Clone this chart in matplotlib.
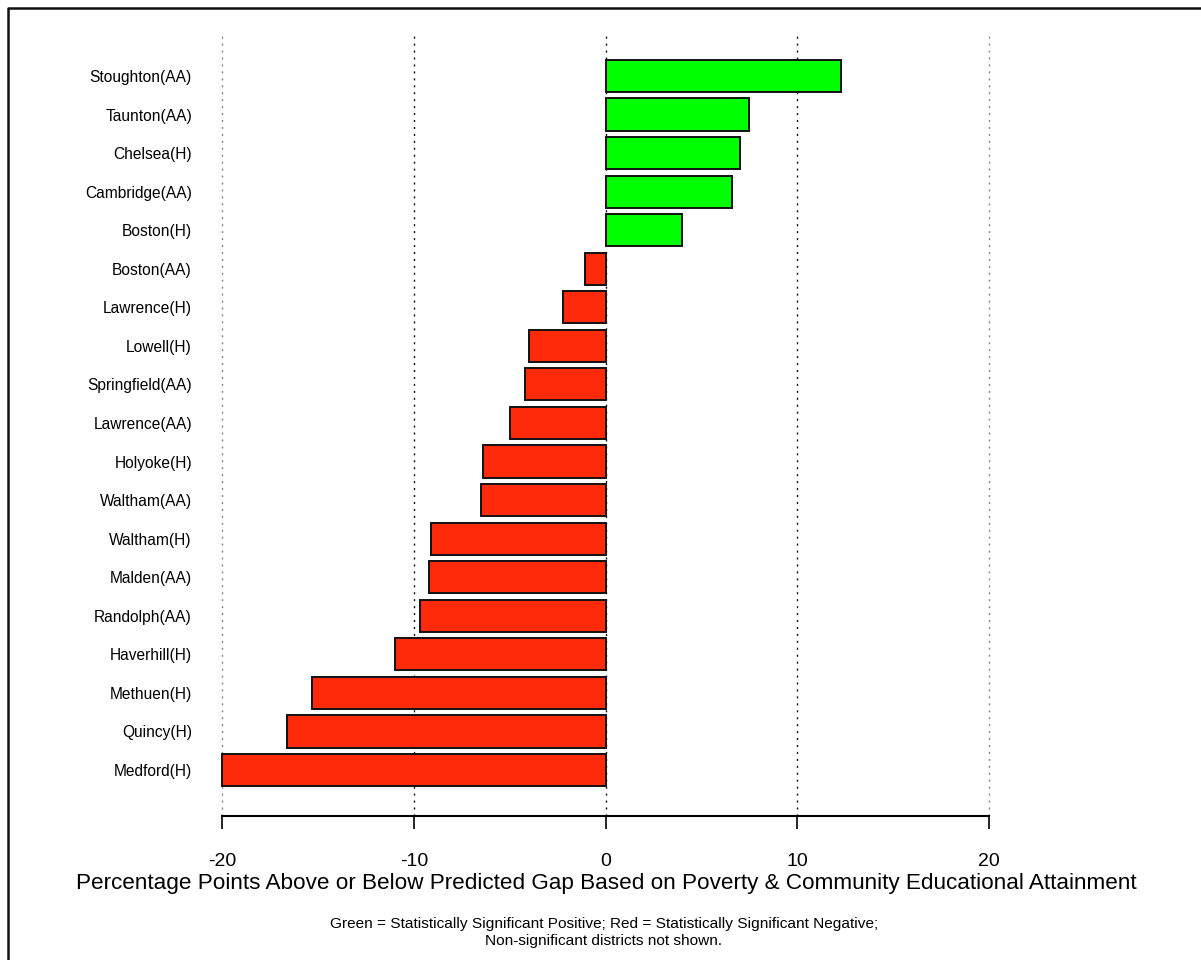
import numpy as np
import matplotlib
matplotlib.use('Agg')
import matplotlib.pyplot as plt
from matplotlib.lines import Line2D

# districts, top to bottom as shown
districts = ['Stoughton(AA)', 'Taunton(AA)', 'Chelsea(H)', 'Cambridge(AA)', 'Boston(H)',
             'Boston(AA)', 'Lawrence(H)', 'Lowell(H)', 'Springfield(AA)', 'Lawrence(AA)',
             'Holyoke(H)', 'Waltham(AA)', 'Waltham(H)', 'Malden(AA)', 'Randolph(AA)',
             'Haverhill(H)', 'Methuen(H)', 'Quincy(H)', 'Medford(H)']
gap = [12.3, 7.5, 7.0, 6.6, 4.0,
       -1.05, -2.2, -4.0, -4.2, -5.0,
       -6.4, -6.5, -9.1, -9.2, -9.7,
       -11.0, -15.3, -16.6, -20.0]
xticks = [-20, -10, 0, 10, 20]

plt.rcParams['font.family'] = ['Liberation Sans', 'DejaVu Sans']

W, H = 1201, 960
fig = plt.figure(figsize=(W / 100, H / 100), dpi=100)
ax = fig.add_axes([203 / W, 1 - 816 / H, (1008 - 203) / W, (816 - 33) / H])

n = len(districts)
ypos = np.arange(n)[::-1]
colors = ['#00ff00' if v > 0 else '#ff2a0a' for v in gap]

for v in xticks:
    c = '#888888' if abs(v) == 20 else '#111111'
    ax.axvline(v, color=c, ls=(0, (1.5, 3.5)), lw=1.0, zorder=1)

ax.barh(ypos, gap, height=0.833, color=colors, edgecolor='#111111', linewidth=1.4, zorder=3)

ax.set_xlim(-21, 21)
ax.set_ylim(-1.193, 19.115)
ax.set_yticks(ypos)
ax.set_yticklabels(districts, fontsize=11.2)
ax.set_xticks(xticks)
ax.set_xticklabels([str(t) for t in xticks], fontsize=14)

for s in ['top', 'right', 'left']:
    ax.spines[s].set_visible(False)
ax.spines['bottom'].set_bounds(-20, 20)
ax.spines['bottom'].set_linewidth(1.5)
ax.tick_params(axis='x', length=9, width=1.2, pad=18, direction='out')
ax.tick_params(axis='y', length=0, pad=8)

fig.text(606 / W, 1 - 883 / H,
         'Percentage Points Above or Below Predicted Gap Based on Poverty & Community Educational Attainment',
         ha='center', va='center', fontsize=16.2)
fig.text(604 / W, 1 - 924 / H,
         'Green = Statistically Significant Positive; Red = Statistically Significant Negative;',
         ha='center', va='center', fontsize=11.1)
fig.text(604 / W, 1 - 941 / H, 'Non-significant districts not shown.',
         ha='center', va='center', fontsize=11.1)

# outer frame: only left and top edges are visible
fx, fy = 7.5 / W, 1 - 7.5 / H
fig.add_artist(Line2D([fx, fx, 1.0], [0.0, fy, fy], transform=fig.transFigure,
                      color='#111111', linewidth=1.8))

fig.savefig('out.png', dpi=100, facecolor='white')
